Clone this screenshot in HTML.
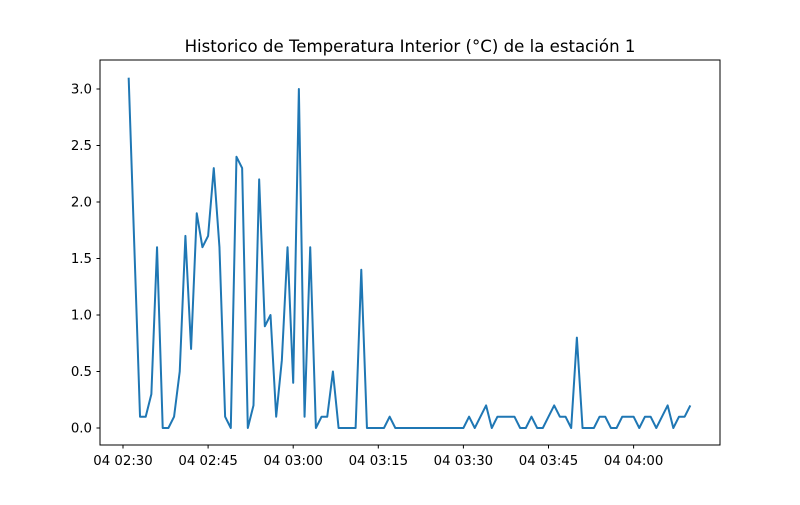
<!DOCTYPE html>
<html><head><meta charset="utf-8"><style>
body{margin:0;background:#fff;}
svg text{font-family:"DejaVu Sans","Liberation Sans",sans-serif;fill:#000;}
</style></head><body>
<svg width="800" height="500" viewBox="0 0 800 500" xmlns="http://www.w3.org/2000/svg">
<rect width="800" height="500" fill="#fff"/>
<text x="410" y="52" text-anchor="middle" font-size="16.6">Historico de Temperatura Interior (°C) de la estación 1</text>
<g id="ticks"></g>
<polyline id="line" fill="none" stroke="#1f77b4" stroke-width="2" stroke-linejoin="round"/>
<rect x="100" y="60" width="620" height="385" fill="none" stroke="#000" stroke-width="1"/>
</svg>
<script>
const startMinute = 1; // minutes after 02:30
const values = [3.1,1.6,0.1,0.1,0.3,1.6,0,0,0.1,0.5,1.7,0.7,1.9,1.6,1.7,2.3,1.6,0.1,0,2.4,2.3,0,0.2,2.2,0.9,1.0,0.1,0.6,1.6,0.4,3.0,0.1,1.6,0,0.1,0.1,0.5,0,0,0,0,1.4,0,0,0,0,0.1,0,0,0,0,0,0,0,0,0,0,0,0,0,0.1,0,0.1,0.2,0,0.1,0.1,0.1,0.1,0,0,0.1,0,0,0.1,0.2,0.1,0.1,0,0.8,0,0,0,0.1,0.1,0,0,0.1,0.1,0.1,0,0.1,0.1,0,0.1,0.2,0,0.1,0.1,0.2];
const yTicks = [0,0.5,1,1.5,2,2.5,3];
const xTickMinutes = [0,15,30,45,60,75,90];
const xTickLabels = ["04 02:30","04 02:45","04 03:00","04 03:15","04 03:30","04 03:45","04 04:00"];
const X = m => 123 + m * (85.1/15);
const Y = v => 428 - v * 113;
const ns = "http://www.w3.org/2000/svg";
const g = document.getElementById('ticks');
function mk(tag, attrs){const e=document.createElementNS(ns,tag);for(const k in attrs)e.setAttribute(k,attrs[k]);g.appendChild(e);return e;}
yTicks.forEach(v=>{
  const l=mk('line',{x1:96.5,x2:100,y1:Y(v),y2:Y(v),stroke:'#000'});
  
  
  const t=mk('text',{x:92,y:Y(v)+4.5,'text-anchor':'end','font-size':'13.3'});
  
  
  t.textContent=v.toFixed(1);
});
xTickMinutes.forEach((m,i)=>{
  const l=mk('line',{x1:X(m),x2:X(m),y1:445,y2:448.5,stroke:'#000'});
  
  
  const t=mk('text',{x:X(m),y:465,'text-anchor':'middle','font-size':'13.3'});
  
  
  t.textContent=xTickLabels[i];
});
document.getElementById('line').setAttribute('points',values.map((v,i)=>X(startMinute+i).toFixed(2)+','+Y(v).toFixed(2)).join(' '));
</script>
</body></html>
